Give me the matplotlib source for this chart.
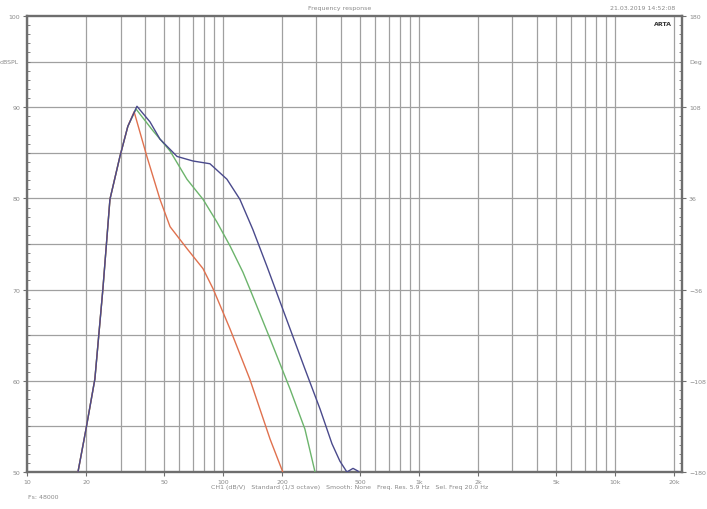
import numpy as np
import matplotlib
matplotlib.use("Agg")
import matplotlib.pyplot as plt
from matplotlib.ticker import FixedLocator, NullFormatter

# ---------------------------  data  --------------------------- #

# shared low-frequency rise (Hz, dB)
rise_f = [17.0, 18.2, 20.0, 22.2, 24.4, 26.5, 29.8, 32.7]
rise_db = [47.5, 50.0, 54.7, 60.2, 70.1, 79.9, 84.6, 87.9]

# after the peak, one tail per curve
blue_f = [36.4, 42.4, 47.7, 58.3, 70.3, 85.8, 104.8, 122, 142, 168,
          220, 262, 313, 360, 395, 429, 461, 489, 530]
blue_db = [90.1, 88.4, 86.5, 84.6, 84.1, 83.8, 82.1, 79.9, 76.6, 72.5,
           65.7, 61.3, 56.9, 53.1, 51.2, 50.0, 50.4, 50.1, 48.5]

green_f = [36.0, 44.0, 53.7, 65.5, 79.1, 93.2, 108.6, 126.5, 137, 174, 220,
           262, 295, 313]
green_db = [89.8, 87.4, 85.2, 82.1, 79.9, 77.4, 74.8, 71.9, 70.1, 64.6, 59.1,
            54.7, 50.0, 48.1]

red_f = [35.2, 40.9, 47.7, 53.7, 65.5, 79.1, 89.0, 108.6, 137, 174, 202, 215]
red_db = [89.5, 84.6, 79.9, 76.9, 74.5, 72.3, 70.1, 65.7, 60.2, 53.6, 50.0,
          48.1]

x_ticks = [10, 20, 50, 100, 200, 500, 1000, 2000, 5000, 10000, 20000]
x_labels = ["10", "20", "50", "100", "200", "500", "1k", "2k", "5k", "10k", "20k"]
left_ticks = [50, 60, 70, 80, 90, 100]
right_ticks = [-180, -108, -36, 36, 108, 180]

# ---------------------------  figure  --------------------------- #

grid_c = "#a0a0a0"
frame_c = "#6e6e6e"
text_c = "#8a8a8a"

fig = plt.figure(figsize=(7.07, 5.10), dpi=100)
ax = fig.add_axes([0.0382, 0.0725, 0.9264, 0.8942])

ax.set_xscale("log")
ax.set_xlim(10, 22000)
ax.set_ylim(50, 100)

# log grid: every integer multiple in each decade
minor = [m * 10 ** d for d in range(1, 5) for m in range(1, 10) if m * 10 ** d <= 22000]
ax.xaxis.set_major_locator(FixedLocator(x_ticks))
ax.set_xticklabels(x_labels)
ax.xaxis.set_minor_locator(FixedLocator(minor))
ax.xaxis.set_minor_formatter(NullFormatter())
ax.set_yticks(left_ticks)
ax.yaxis.set_minor_locator(FixedLocator(np.arange(50, 100.1, 1)))

for f in minor:
    ax.axvline(f, color=grid_c, lw=0.9, zorder=1)
for v in np.arange(55, 100, 5):
    ax.axhline(v, color=grid_c, lw=0.9, zorder=1)

for s in ax.spines.values():
    s.set_color(frame_c)
    s.set_linewidth(1.7)

ax.tick_params(axis="both", which="major", labelsize=4.5, colors=frame_c,
               labelcolor=text_c, length=3, direction="out", pad=2)
ax.tick_params(axis="y", which="minor", length=2, colors=frame_c, direction="in")
ax.tick_params(axis="x", which="minor", length=0)

# curves
ax.plot(rise_f + blue_f, rise_db + blue_db, color="#4a4a8c", lw=1.0, zorder=4)
ax.plot(rise_f + green_f, rise_db + green_db, color="#6cb46c", lw=1.0, zorder=3)
ax.plot(rise_f + red_f, rise_db + red_db, color="#e0714e", lw=1.0, zorder=3)

# right (phase) axis
ax2 = ax.twinx()
ax2.set_ylim(-180, 180)
ax2.set_yticks(right_ticks)
ax2.yaxis.set_minor_locator(FixedLocator(np.arange(-180, 181, 7.2)))
ax2.tick_params(axis="y", which="major", labelsize=4.5, colors=frame_c,
                labelcolor=text_c, length=3, pad=2)
ax2.tick_params(axis="y", which="minor", length=2, colors=frame_c, direction="in")
for s in ax2.spines.values():
    s.set_visible(False)

# labels and captions
ax.text(-0.012, 0.9, "dBSPL", transform=ax.transAxes, fontsize=4.5,
        color=text_c, ha="right", va="center")
ax2.text(1.012, 0.9, "Deg", transform=ax.transAxes, fontsize=4.5,
         color=text_c, ha="left", va="center")
ax.text(0.985, 0.99, "ARTA", transform=ax.transAxes, fontsize=4.5,
        color="#333333", weight="bold", ha="right", va="top")

fig.text(0.48, 0.983, "Frequency response", fontsize=4.5, color=text_c,
         ha="center", va="center")
fig.text(0.955, 0.983, "21.03.2019 14:52:08", fontsize=4.5, color=text_c,
         ha="right", va="center")
fig.text(0.495, 0.045,
         "CH1 (dB/V)   Standard (1/3 octave)   Smooth: None   "
         "Freq. Res. 5.9 Hz   Sel. Freq 20.0 Hz",
         fontsize=4.5, color=text_c, ha="center", va="center")
fig.text(0.04, 0.025, "Fs: 48000", fontsize=4.5, color=text_c,
         ha="left", va="center")

fig.savefig("out.png", dpi=100, facecolor="white")
